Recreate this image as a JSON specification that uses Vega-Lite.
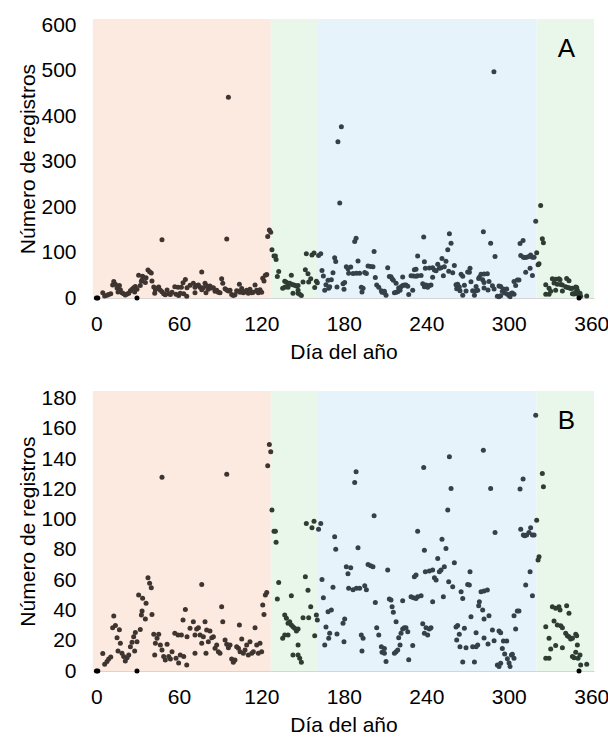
{
  "$schema": "https://vega.github.io/schema/vega-lite/v6.json",
  "background": "white",
  "padding": {"left": 17, "top": 14, "right": 0, "bottom": 0},
  "config": {
    "view": {"stroke": null},
    "font": "Liberation Sans",
    "axis": {
      "grid": false, "ticks": false, "tickSize": 0,
      "labelFont": "Liberation Sans", "titleFont": "Liberation Sans",
      "labelFontSize": 21, "titleFontSize": 21,
      "labelColor": "#000000", "titleColor": "#000000",
      "titleFontWeight": "normal",
      "labelOverlap": false,
      "domainColor": "#d6d6d6", "domainWidth": 1.2,
      "zindex": 1
    },
    "axisX": {"labelPadding": 15, "titlePadding": 7},
    "axisY": {"labelPadding": 17, "titlePadding": 2},
    "concat": {"spacing": 25}
  },
  "datasets": {
    "fondos": [
      {"ini": -2.5, "fin": 126.8, "fase": "I"},
      {"ini": 126.8, "fin": 161.2, "fase": "II"},
      {"ini": 161.2, "fin": 320.3, "fase": "III"},
      {"ini": 320.3, "fin": 362, "fase": "II"}
    ],
    "registros": [
      {"dia":0,"n":0,"f":"I"},{"dia":1,"n":0,"f":"I"},{"dia":29.5,"n":0,"f":"I"},
      {"dia":4.6,"n":11.5,"f":"I"},{"dia":6.0,"n":4.4,"f":"I"},{"dia":7.7,"n":6.2,"f":"I"},{"dia":8.9,"n":7.9,"f":"I"},{"dia":10.4,"n":9.2,"f":"I"},
      {"dia":12.6,"n":36.3,"f":"I"},{"dia":11.8,"n":28.6,"f":"I"},{"dia":13.8,"n":30,"f":"I"},{"dia":16.7,"n":27.3,"f":"I"},{"dia":15.0,"n":22,"f":"I"},
      {"dia":17.4,"n":18.3,"f":"I"},{"dia":15.7,"n":13.2,"f":"I"},{"dia":18.6,"n":11.7,"f":"I"},{"dia":19.8,"n":9.5,"f":"I"},{"dia":21.0,"n":6.6,"f":"I"},
      {"dia":22.3,"n":8.8,"f":"I"},{"dia":23.5,"n":10.6,"f":"I"},{"dia":24.7,"n":16.1,"f":"I"},{"dia":25.9,"n":19,"f":"I"},{"dia":27.1,"n":22.7,"f":"I"},
      {"dia":28.3,"n":25.5,"f":"I"},{"dia":27.8,"n":13.2,"f":"I"},{"dia":29.5,"n":19.4,"f":"I"},{"dia":30.7,"n":50.2,"f":"I"},{"dia":33.6,"n":48,"f":"I"},
      {"dia":36.1,"n":44.7,"f":"I"},{"dia":31.9,"n":27.5,"f":"I"},{"dia":33.2,"n":39.6,"f":"I"},{"dia":32.7,"n":37,"f":"I"},{"dia":35.6,"n":34.3,"f":"I"},
      {"dia":37.5,"n":61.6,"f":"I"},{"dia":38.7,"n":57.9,"f":"I"},{"dia":39.9,"n":55,"f":"I"},{"dia":40.4,"n":37.4,"f":"I"},{"dia":41.7,"n":24.2,"f":"I"},
      {"dia":42.9,"n":18.3,"f":"I"},{"dia":44.1,"n":21.6,"f":"I"},{"dia":45.3,"n":24.2,"f":"I"},{"dia":42.4,"n":10.6,"f":"I"},{"dia":46.5,"n":17.2,"f":"I"},
      {"dia":47.7,"n":13.9,"f":"I"},{"dia":48.9,"n":9.5,"f":"I"},{"dia":50.1,"n":7.3,"f":"I"},{"dia":51.4,"n":17.6,"f":"I"},{"dia":52.6,"n":9.5,"f":"I"},
      {"dia":53.8,"n":7.9,"f":"I"},{"dia":55.0,"n":12.7,"f":"I"},{"dia":57.0,"n":24.9,"f":"I"},{"dia":59.4,"n":23.8,"f":"I"},{"dia":61.8,"n":23.8,"f":"I"},
      {"dia":57.9,"n":8.4,"f":"I"},{"dia":59.8,"n":5.3,"f":"I"},{"dia":61.0,"n":10.6,"f":"I"},{"dia":63.5,"n":9.5,"f":"I"},{"dia":63.0,"n":33.7,"f":"I"},
      {"dia":64.7,"n":40.7,"f":"I"},{"dia":65.9,"n":22.7,"f":"I"},{"dia":47.7,"n":128,"f":"I"},{"dia":65.7,"n":4,"f":"I"},
      {"dia":68.1,"n":28.2,"f":"I"},{"dia":70.5,"n":32.6,"f":"I"},{"dia":71.7,"n":23.8,"f":"I"},{"dia":72.9,"n":27.7,"f":"I"},{"dia":74.2,"n":28.6,"f":"I"},
      {"dia":75.4,"n":23.8,"f":"I"},{"dia":76.6,"n":18.3,"f":"I"},{"dia":76.6,"n":57.2,"f":"I"},{"dia":77.8,"n":22.7,"f":"I"},{"dia":79.0,"n":32.6,"f":"I"},
      {"dia":80.2,"n":27.1,"f":"I"},{"dia":81.4,"n":19.4,"f":"I"},{"dia":82.6,"n":26.4,"f":"I"},{"dia":83.9,"n":22,"f":"I"},{"dia":85.1,"n":22.7,"f":"I"},
      {"dia":86.3,"n":15,"f":"I"},{"dia":87.5,"n":17.2,"f":"I"},{"dia":88.7,"n":12.7,"f":"I"},{"dia":89.9,"n":11.7,"f":"I"},{"dia":91.1,"n":42.5,"f":"I"},
      {"dia":91.9,"n":32.6,"f":"I"},{"dia":93.6,"n":20.5,"f":"I"},{"dia":94.8,"n":17.6,"f":"I"},{"dia":96.0,"n":15.4,"f":"I"},{"dia":97.2,"n":17.2,"f":"I"},
      {"dia":98.4,"n":7.9,"f":"I"},{"dia":99.6,"n":5.7,"f":"I"},{"dia":100.8,"n":7.3,"f":"I"},{"dia":102.0,"n":16.1,"f":"I"},{"dia":103.3,"n":15,"f":"I"},
      {"dia":104.0,"n":30.4,"f":"I"},{"dia":104.5,"n":12.7,"f":"I"},{"dia":105.7,"n":21.1,"f":"I"},{"dia":106.9,"n":11.7,"f":"I"},{"dia":108.1,"n":13.9,"f":"I"},
      {"dia":109.3,"n":17.2,"f":"I"},{"dia":110.5,"n":10.6,"f":"I"},{"dia":111.7,"n":19.4,"f":"I"},{"dia":113.0,"n":11.7,"f":"I"},{"dia":114.2,"n":12.7,"f":"I"},
      {"dia":115.4,"n":28.6,"f":"I"},{"dia":116.6,"n":17.2,"f":"I"},{"dia":117.8,"n":11.7,"f":"I"},{"dia":119.0,"n":18.3,"f":"I"},{"dia":120.2,"n":12.7,"f":"I"},
      {"dia":121.0,"n":43.6,"f":"I"},{"dia":121.9,"n":37.4,"f":"I"},{"dia":122.9,"n":50.2,"f":"I"},{"dia":123.9,"n":51.9,"f":"I"},{"dia":71.7,"n":11.7,"f":"I"},
      {"dia":79.7,"n":11.7,"f":"I"},{"dia":94.8,"n":130,"f":"I"},{"dia":124.6,"n":135.6,"f":"I"},{"dia":125.8,"n":149.6,"f":"I"},{"dia":126.8,"n":144.8,"f":"I"},
      {"dia":96.0,"n":442,"f":"I"},
      {"dia":127.7,"n":106.3,"f":"II"},{"dia":129.2,"n":92.4,"f":"II"},{"dia":130.2,"n":92.4,"f":"II"},{"dia":130.7,"n":85,"f":"II"},{"dia":132.6,"n":58.5,"f":"II"},
      {"dia":131.6,"n":47.5,"f":"II"},{"dia":135.5,"n":21.6,"f":"II"},
      {"dia":137.0,"n":37,"f":"II"},{"dia":138.2,"n":34.8,"f":"II"},{"dia":139.4,"n":31.5,"f":"II"},{"dia":140.6,"n":32.6,"f":"II"},{"dia":141.8,"n":30.4,"f":"II"},
      {"dia":143.0,"n":29.3,"f":"II"},{"dia":144.2,"n":28.2,"f":"II"},{"dia":145.5,"n":26.4,"f":"II"},{"dia":146.7,"n":27.7,"f":"II"},{"dia":137.0,"n":23.8,"f":"II"},
      {"dia":139.4,"n":23.8,"f":"II"},{"dia":146.7,"n":17.2,"f":"II"},{"dia":141.8,"n":49.8,"f":"II"},{"dia":143.0,"n":10.6,"f":"II"},{"dia":146.7,"n":10.6,"f":"II"},
      {"dia":149.1,"n":5.7,"f":"II"},{"dia":147.9,"n":8.4,"f":"II"},{"dia":152.0,"n":62.3,"f":"II"},{"dia":153.9,"n":53.3,"f":"II"},{"dia":155.9,"n":42.5,"f":"II"},
      {"dia":150.3,"n":35.2,"f":"II"},{"dia":154.4,"n":35.2,"f":"II"},{"dia":158.8,"n":23.3,"f":"II"},{"dia":160.0,"n":37,"f":"II"},{"dia":160.7,"n":33.7,"f":"II"},
      {"dia":152.7,"n":97.5,"f":"II"},{"dia":156.8,"n":94.6,"f":"II"},{"dia":158.3,"n":99,"f":"II"},
      {"dia":161.6,"n":93.7,"f":"III"},{"dia":163.2,"n":97.5,"f":"III"},{"dia":164.1,"n":60.5,"f":"III"},{"dia":165.1,"n":48.4,"f":"III"},{"dia":166.1,"n":17.2,"f":"III"},
      {"dia":167.0,"n":29,"f":"III"},{"dia":168.5,"n":39.1,"f":"III"},{"dia":170.9,"n":40.3,"f":"III"},{"dia":169.7,"n":24.9,"f":"III"},{"dia":169.0,"n":21.6,"f":"III"},
      {"dia":172.1,"n":55.4,"f":"III"},{"dia":173.3,"n":88.7,"f":"III"},{"dia":174.1,"n":80.4,"f":"III"},{"dia":175.0,"n":24.4,"f":"III"},{"dia":179.4,"n":31.5,"f":"III"},
      {"dia":180.6,"n":34.3,"f":"III"},{"dia":180.1,"n":19.4,"f":"III"},{"dia":181.8,"n":68.9,"f":"III"},{"dia":183.0,"n":64.3,"f":"III"},{"dia":185.0,"n":68.3,"f":"III"},
      {"dia":183.5,"n":54.6,"f":"III"},{"dia":186.7,"n":53.7,"f":"III"},{"dia":187.9,"n":124.6,"f":"III"},{"dia":188.9,"n":131.6,"f":"III"},{"dia":189.1,"n":54.6,"f":"III"},
      {"dia":190.3,"n":81.5,"f":"III"},{"dia":191.5,"n":54.6,"f":"III"},{"dia":192.7,"n":23.8,"f":"III"},{"dia":194.0,"n":21.6,"f":"III"},{"dia":195.2,"n":56.3,"f":"III"},
      {"dia":196.4,"n":53.7,"f":"III"},{"dia":193.2,"n":13.2,"f":"III"},{"dia":197.6,"n":70.4,"f":"III"},{"dia":199.5,"n":69.5,"f":"III"},{"dia":201.2,"n":68.9,"f":"III"},
      {"dia":202.0,"n":102.6,"f":"III"},{"dia":202.9,"n":45.3,"f":"III"},{"dia":203.9,"n":28.6,"f":"III"},{"dia":205.4,"n":23.8,"f":"III"},{"dia":207.3,"n":16.1,"f":"III"},
      {"dia":207.8,"n":12.4,"f":"III"},{"dia":175.7,"n":344,"f":"III"},{"dia":177.0,"n":209,"f":"III"},{"dia":178.2,"n":377,"f":"III"},
      {"dia":209.5,"n":14.9,"f":"III"},{"dia":209.5,"n":11.7,"f":"III"},{"dia":210.7,"n":6.2,"f":"III"},{"dia":211.9,"n":66.7,"f":"III"},{"dia":213.1,"n":47.5,"f":"III"},
      {"dia":214.3,"n":46.9,"f":"III"},{"dia":215.1,"n":42.5,"f":"III"},{"dia":216.0,"n":38.8,"f":"III"},{"dia":218.0,"n":32.6,"f":"III"},{"dia":219.9,"n":22,"f":"III"},
      {"dia":220.9,"n":17.2,"f":"III"},{"dia":221.6,"n":24.9,"f":"III"},{"dia":222.8,"n":27.7,"f":"III"},{"dia":224.0,"n":28.6,"f":"III"},{"dia":225.2,"n":28.6,"f":"III"},
      {"dia":226.5,"n":26,"f":"III"},{"dia":222.8,"n":46.4,"f":"III"},{"dia":228.9,"n":49,"f":"III"},{"dia":230.6,"n":48.4,"f":"III"},{"dia":232.5,"n":47.9,"f":"III"},
      {"dia":233.7,"n":49,"f":"III"},{"dia":236.2,"n":49.7,"f":"III"},{"dia":237.4,"n":31.3,"f":"III"},{"dia":238.6,"n":24.9,"f":"III"},{"dia":239.8,"n":28.6,"f":"III"},
      {"dia":242.2,"n":27.7,"f":"III"},{"dia":243.4,"n":28.6,"f":"III"},{"dia":241.0,"n":23.8,"f":"III"},{"dia":230.1,"n":16.9,"f":"III"},{"dia":227.2,"n":7.5,"f":"III"},
      {"dia":218.0,"n":12.7,"f":"III"},{"dia":216.8,"n":11.7,"f":"III"},{"dia":219.2,"n":13.9,"f":"III"},{"dia":231.3,"n":62.3,"f":"III"},{"dia":232.5,"n":63.4,"f":"III"},
      {"dia":233.7,"n":92.4,"f":"III"},{"dia":238.6,"n":79.7,"f":"III"},{"dia":239.3,"n":65.6,"f":"III"},{"dia":242.2,"n":66,"f":"III"},{"dia":244.6,"n":66.7,"f":"III"},
      {"dia":245.9,"n":61.6,"f":"III"},{"dia":247.1,"n":60.1,"f":"III"},{"dia":244.6,"n":45.8,"f":"III"},{"dia":248.3,"n":74.4,"f":"III"},{"dia":249.5,"n":65.6,"f":"III"},
      {"dia":250.7,"n":66.7,"f":"III"},{"dia":251.4,"n":87.1,"f":"III"},{"dia":252.4,"n":49,"f":"III"},{"dia":253.1,"n":68.9,"f":"III"},{"dia":254.3,"n":80.9,"f":"III"},
      {"dia":256.3,"n":59,"f":"III"},{"dia":255.6,"n":106.3,"f":"III"},{"dia":256.8,"n":141.5,"f":"III"},{"dia":258.0,"n":120.6,"f":"III"},{"dia":259.2,"n":55.6,"f":"III"},
      {"dia":260.4,"n":71.5,"f":"III"},{"dia":261.6,"n":29,"f":"III"},{"dia":262.8,"n":30,"f":"III"},{"dia":264.0,"n":24.2,"f":"III"},{"dia":265.3,"n":52.4,"f":"III"},
      {"dia":266.5,"n":47.9,"f":"III"},{"dia":262.1,"n":20.5,"f":"III"},{"dia":264.5,"n":16.1,"f":"III"},{"dia":267.7,"n":28.2,"f":"III"},{"dia":268.9,"n":15.4,"f":"III"},
      {"dia":270.1,"n":57.2,"f":"III"},{"dia":271.3,"n":56.8,"f":"III"},{"dia":271.8,"n":65.6,"f":"III"},{"dia":272.5,"n":35.9,"f":"III"},{"dia":273.7,"n":16.1,"f":"III"},
      {"dia":276.2,"n":25.3,"f":"III"},{"dia":276.2,"n":16.1,"f":"III"},{"dia":277.4,"n":17.2,"f":"III"},{"dia":278.1,"n":43.1,"f":"III"},{"dia":278.6,"n":45.8,"f":"III"},
      {"dia":279.8,"n":52.4,"f":"III"},{"dia":281.0,"n":40.3,"f":"III"},{"dia":281.5,"n":145.9,"f":"III"},{"dia":238.1,"n":134.5,"f":"III"},{"dia":266.5,"n":5.9,"f":"III"},
      {"dia":275.0,"n":5.9,"f":"III"},
      {"dia":282.0,"n":52.8,"f":"III"},{"dia":284.4,"n":53.5,"f":"III"},{"dia":282.0,"n":34.3,"f":"III"},{"dia":285.6,"n":36.5,"f":"III"},{"dia":282.0,"n":21.8,"f":"III"},
      {"dia":284.9,"n":17.8,"f":"III"},{"dia":288.1,"n":27.1,"f":"III"},{"dia":289.3,"n":20,"f":"III"},{"dia":286.8,"n":120.6,"f":"III"},{"dia":290.0,"n":91.5,"f":"III"},
      {"dia":292.9,"n":26.4,"f":"III"},{"dia":294.1,"n":25.3,"f":"III"},{"dia":296.1,"n":19.8,"f":"III"},{"dia":295.3,"n":14.9,"f":"III"},{"dia":298.5,"n":19.8,"f":"III"},
      {"dia":297.0,"n":11.2,"f":"III"},{"dia":291.7,"n":4.0,"f":"III"},{"dia":294.1,"n":5.1,"f":"III"},{"dia":292.9,"n":3,"f":"III"},{"dia":299.0,"n":8.1,"f":"III"},
      {"dia":300.2,"n":5.3,"f":"III"},{"dia":301.9,"n":10.6,"f":"III"},{"dia":302.6,"n":11.1,"f":"III"},{"dia":303.8,"n":8.4,"f":"III"},{"dia":300.9,"n":3,"f":"III"},
      {"dia":303.8,"n":36.5,"f":"III"},{"dia":305.0,"n":27.7,"f":"III"},{"dia":306.2,"n":39.6,"f":"III"},{"dia":307.4,"n":39.6,"f":"III"},{"dia":308.2,"n":120.2,"f":"III"},
      {"dia":310.4,"n":126.8,"f":"III"},{"dia":308.7,"n":93.7,"f":"III"},{"dia":310.6,"n":89.8,"f":"III"},{"dia":311.6,"n":89.4,"f":"III"},{"dia":313.0,"n":89.8,"f":"III"},
      {"dia":314.7,"n":91.5,"f":"III"},{"dia":315.9,"n":94.6,"f":"III"},{"dia":317.2,"n":89.8,"f":"III"},{"dia":318.4,"n":89.8,"f":"III"},{"dia":312.3,"n":56.8,"f":"III"},
      {"dia":315.5,"n":65.6,"f":"III"},{"dia":317.2,"n":49.7,"f":"III"},{"dia":319.6,"n":169,"f":"III"},{"dia":289.2,"n":498,"f":"III"},
      {"dia":320.3,"n":99.6,"f":"II"},{"dia":321.3,"n":73.3,"f":"II"},{"dia":322.0,"n":75.5,"f":"II"},{"dia":324.4,"n":130.5,"f":"II"},{"dia":325.2,"n":121.7,"f":"II"},
      {"dia":326.9,"n":29.3,"f":"II"},{"dia":329.3,"n":21.6,"f":"II"},{"dia":331.7,"n":42.5,"f":"II"},{"dia":334.1,"n":41.4,"f":"II"},{"dia":336.5,"n":42.5,"f":"II"},
      {"dia":337.3,"n":40.3,"f":"II"},{"dia":342.1,"n":43.1,"f":"II"},{"dia":343.8,"n":38.1,"f":"II"},{"dia":332.9,"n":33,"f":"II"},{"dia":335.3,"n":30.4,"f":"II"},
      {"dia":337.8,"n":29.9,"f":"II"},{"dia":339.0,"n":28.6,"f":"II"},{"dia":341.4,"n":24.9,"f":"II"},{"dia":342.6,"n":23.3,"f":"II"},{"dia":343.8,"n":22.7,"f":"II"},
      {"dia":345.0,"n":21.1,"f":"II"},{"dia":346.3,"n":21.6,"f":"II"},{"dia":348.7,"n":24.2,"f":"II"},{"dia":349.4,"n":23.3,"f":"II"},{"dia":349.9,"n":17.2,"f":"II"},
      {"dia":326.9,"n":8.4,"f":"II"},{"dia":329.3,"n":8.4,"f":"II"},{"dia":330.5,"n":14.6,"f":"II"},{"dia":334.1,"n":16.8,"f":"II"},{"dia":339.0,"n":15.4,"f":"II"},
      {"dia":346.3,"n":9.5,"f":"II"},{"dia":348.7,"n":12.4,"f":"II"},{"dia":347.5,"n":8.8,"f":"II"},{"dia":350.4,"n":8.4,"f":"II"},{"dia":351.8,"n":10.6,"f":"II"},
      {"dia":352.3,"n":4,"f":"II"},{"dia":356.7,"n":4.4,"f":"II"},{"dia":351.1,"n":0,"f":"II"},{"dia":323.2,"n":203.7,"f":"II"}
    ]
  },
  "vconcat": [
    {
      "width": 501,
      "height": 279,
      "layer": [
        {
          "data": {"name": "fondos"},
          "mark": {"type": "rect"},
          "encoding": {
            "x": {"field": "ini", "type": "quantitative", "title": "Día del año",
                  "scale": {"domain": [-2.5, 362], "nice": false, "zero": false},
                  "axis": {"values": [0, 60, 120, 180, 240, 300, 360], "labelOverlap": false}},
            "x2": {"field": "fin"},
            "fill": {"field": "fase", "type": "nominal",
                     "scale": {"domain": ["I", "II", "III"], "range": ["#fce9e0", "#e9f7ea", "#e7f3fb"]},
                     "legend": null}
          }
        },
        {
          "data": {"name": "registros"},
          "mark": {"type": "circle", "size": 25, "opacity": 1},
          "encoding": {
            "x": {"field": "dia", "type": "quantitative", "title": "Día del año",
                  "axis": {"values": [0, 60, 120, 180, 240, 300, 360], "labelOverlap": false}},
            "y": {"field": "n", "type": "quantitative", "title": "Número de registros",
                  "scale": {"domain": [0, 614], "nice": false},
                  "axis": {"values": [0, 100, 200, 300, 400, 500, 600], "labelOverlap": false}},
            "color": {
              "condition": {"test": "datum.n === 0", "value": "#000000"},
              "field": "f", "type": "nominal",
              "scale": {"domain": ["I", "II", "III"], "range": ["#3e3430", "#2e3d33", "#35404a"]},
              "legend": null
            }
          }
        },
        {
          "data": {"values": [{"etiqueta": "A"}]},
          "mark": {"type": "text", "fontSize": 26, "font": "Liberation Sans", "color": "#000000", "align": "center", "baseline": "middle"},
          "encoding": {
            "x": {"datum": 342, "type": "quantitative", "title": "Día del año",
                  "axis": {"values": [0, 60, 120, 180, 240, 300, 360], "labelOverlap": false}},
            "y": {"datum": 549, "type": "quantitative", "title": "Número de registros",
                  "axis": {"values": [0, 100, 200, 300, 400, 500, 600], "labelOverlap": false}},
            "text": {"field": "etiqueta"}
          }
        }
      ]
    },
    {
      "width": 501,
      "height": 280,
      "layer": [
        {
          "data": {"name": "fondos"},
          "mark": {"type": "rect"},
          "encoding": {
            "x": {"field": "ini", "type": "quantitative", "title": "Día del año",
                  "scale": {"domain": [-2.5, 362], "nice": false, "zero": false},
                  "axis": {"values": [0, 60, 120, 180, 240, 300, 360], "labelOverlap": false}},
            "x2": {"field": "fin"},
            "fill": {"field": "fase", "type": "nominal",
                     "scale": {"domain": ["I", "II", "III"], "range": ["#fce9e0", "#e9f7ea", "#e7f3fb"]},
                     "legend": null}
          }
        },
        {
          "data": {"name": "registros"},
          "transform": [{"filter": "datum.n <= 185"}],
          "mark": {"type": "circle", "size": 25, "opacity": 1},
          "encoding": {
            "x": {"field": "dia", "type": "quantitative", "title": "Día del año",
                  "axis": {"values": [0, 60, 120, 180, 240, 300, 360], "labelOverlap": false}},
            "y": {"field": "n", "type": "quantitative", "title": "Número de registros",
                  "scale": {"domain": [0, 185], "nice": false},
                  "axis": {"values": [0, 20, 40, 60, 80, 100, 120, 140, 160, 180], "labelOverlap": false}},
            "color": {
              "condition": {"test": "datum.n === 0", "value": "#000000"},
              "field": "f", "type": "nominal",
              "scale": {"domain": ["I", "II", "III"], "range": ["#3e3430", "#2e3d33", "#35404a"]},
              "legend": null
            }
          }
        },
        {
          "data": {"values": [{"etiqueta": "B"}]},
          "mark": {"type": "text", "fontSize": 26, "font": "Liberation Sans", "color": "#000000", "align": "center", "baseline": "middle"},
          "encoding": {
            "x": {"datum": 342, "type": "quantitative", "title": "Día del año",
                  "axis": {"values": [0, 60, 120, 180, 240, 300, 360], "labelOverlap": false}},
            "y": {"datum": 165, "type": "quantitative", "title": "Número de registros",
                  "axis": {"values": [0, 20, 40, 60, 80, 100, 120, 140, 160, 180], "labelOverlap": false}},
            "text": {"field": "etiqueta"}
          }
        }
      ]
    }
  ]
}
